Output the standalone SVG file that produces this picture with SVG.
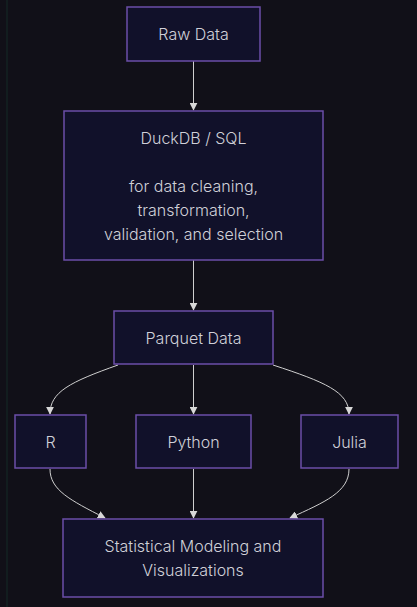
<svg xmlns="http://www.w3.org/2000/svg" width="417" height="607" viewBox="0 0 417 607">
<style>
.n rect{fill:#11112a;stroke:#6b4ea8;stroke-width:1.5}
.n text{fill:#d0d0d8;font-family:Inter,"Liberation Sans",sans-serif;font-size:16px;font-weight:300;text-anchor:middle}
.e path{fill:none;stroke:#cfcfcf;stroke-width:1}
</style>
<defs>
<marker id="ah" viewBox="0 0 10 10" refX="9" refY="5" markerWidth="8" markerHeight="8" markerUnits="userSpaceOnUse" orient="auto">
<path d="M0,0 L10,5 L0,10 z" fill="#d8d8d8"/>
</marker>
</defs>
<rect width="417" height="607" fill="#111018"/>
<line x1="7" y1="0" x2="7" y2="607" stroke="#132222" stroke-width="1.5"/>
<g class="e">
<path d="M193.5,61 L193.5,110" marker-end="url(#ah)"/>
<path d="M193.5,260 L193.5,310" marker-end="url(#ah)"/>
<path d="M118,365 C70,382 50,392 50,414" marker-end="url(#ah)"/>
<path d="M193.5,365 L193.5,414" marker-end="url(#ah)"/>
<path d="M273,365 C325,382 349,392 349,414" marker-end="url(#ah)"/>
<path d="M50,469 C50,490 70,500 105,518" marker-end="url(#ah)"/>
<path d="M193.5,469 L193.5,518" marker-end="url(#ah)"/>
<path d="M349,469 C349,492 325,502 290,518" marker-end="url(#ah)"/>
</g>
<g id="raw" class="n"><rect x="127" y="7" width="133" height="54"/><text x="193.5" y="40">Raw Data</text></g>
<g id="duck" class="n"><rect x="64" y="111" width="259" height="149"/>
<text x="193.5" y="144">DuckDB / SQL</text>
<text x="193.5" y="192">for data cleaning,</text>
<text x="193.5" y="216">transformation,</text>
<text x="193.5" y="240">validation, and selection</text></g>
<g id="parquet" class="n"><rect x="114" y="311" width="159" height="53"/><text x="193.5" y="344">Parquet Data</text></g>
<g id="r" class="n"><rect x="15" y="415" width="71" height="53"/><text x="50.5" y="448">R</text></g>
<g id="python" class="n"><rect x="136" y="415" width="115" height="53"/><text x="193.5" y="448">Python</text></g>
<g id="julia" class="n"><rect x="301" y="415" width="97" height="53"/><text x="349.5" y="448">Julia</text></g>
<g id="stat" class="n"><rect x="63" y="519" width="260" height="78"/>
<text x="193" y="552">Statistical Modeling and</text>
<text x="193" y="576">Visualizations</text></g>
</svg>
